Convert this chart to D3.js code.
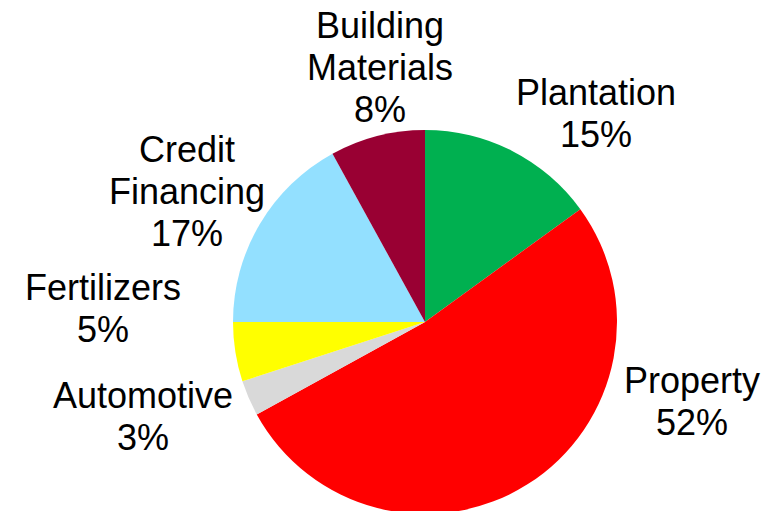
<!DOCTYPE html>
<html>
<head>
<meta charset="utf-8">
<script src="https://cdn.jsdelivr.net/npm/d3@7"></script>
<style>
html,body{margin:0;padding:0;background:#fff;}
svg{display:block;}
</style>
</head>
<body>
<svg id="chart" width="781" height="511"></svg>
<script>
const categories = ["Plantation", "Property", "Automotive", "Fertilizers", "Credit Financing", "Building Materials"];
const values = [15, 52, 3, 5, 17, 8];
const labelLines = [["Plantation"], ["Property"], ["Automotive"], ["Fertilizers"], ["Credit", "Financing"], ["Building", "Materials"]];
const colors = ["#00B050", "#FF0000", "#D9D9D9", "#FFFF00", "#93E0FF", "#990033"];

// layout (label anchor: center x, first baseline y)
const labelPos = [[596, 105], [692, 393], [143, 408], [103, 300], [187, 162], [380, 38]];
const cx = 425, cy = 322, radius = 192, fontSize = 36, lineH = 42;

const data = categories.map((c, i) => ({name: c, value: values[i], lines: labelLines[i], color: colors[i], pos: labelPos[i]}));

const svg = d3.select("#chart");
const g = svg.append("g").attr("transform", `translate(${cx},${cy})`);
const pie = d3.pie().value(d => d.value).sort(null);
const arc = d3.arc().innerRadius(0).outerRadius(radius);

g.selectAll("path").data(pie(data)).join("path")
  .attr("d", arc)
  .attr("fill", d => d.data.color);

const labels = svg.selectAll("text.lbl").data(data).join("text")
  .attr("class", "lbl")
  .attr("text-anchor", "middle")
  .attr("font-family", "Liberation Sans, Arial, sans-serif")
  .attr("font-size", fontSize)
  .attr("fill", "#000");

labels.each(function(d) {
  const t = d3.select(this);
  const lines = d.lines.concat([d.value + "%"]);
  lines.forEach((ln, i) => {
    t.append("tspan").attr("x", d.pos[0]).attr("y", d.pos[1] + i * lineH).text(ln);
  });
});
</script>
</body>
</html>
